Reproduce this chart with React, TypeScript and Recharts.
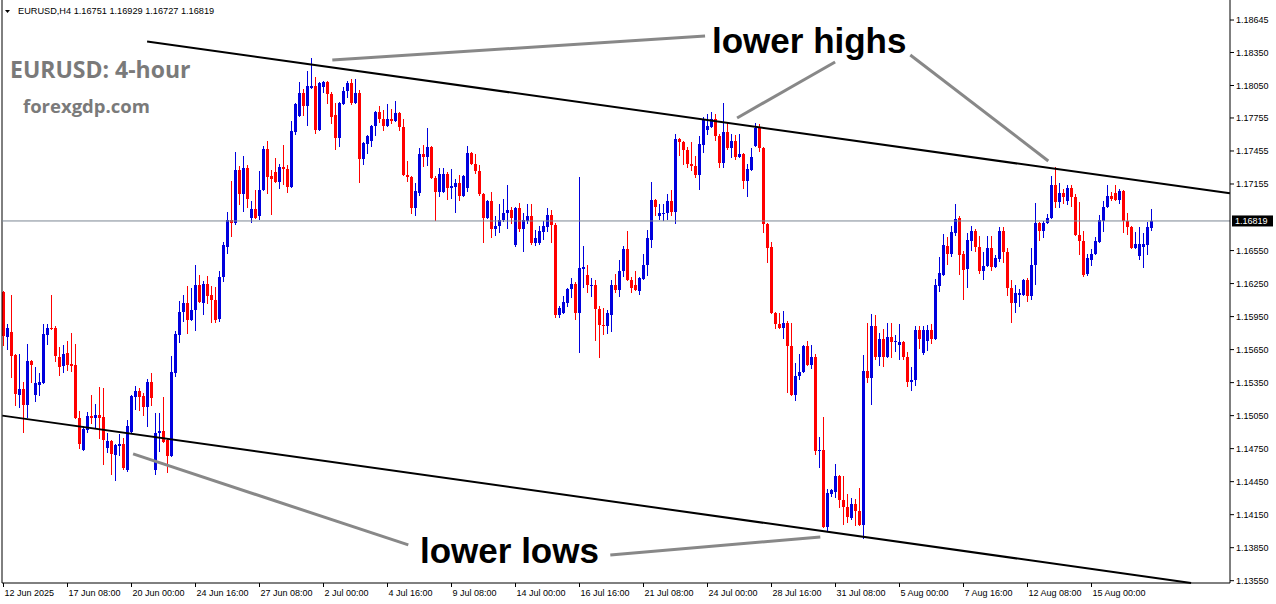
import React from 'react';
import { ComposedChart, Bar, XAxis, YAxis, ReferenceLine } from 'recharts';

// EURUSD H4 candles, oldest first
const OPEN = [
  1.1617, 1.1576, 1.1581, 1.1560, 1.1524, 1.1529, 1.1515, 1.1555,
  1.1524, 1.1533, 1.1535, 1.1578, 1.1585, 1.1585, 1.1558, 1.1550,
  1.1562, 1.1552, 1.1551, 1.1503, 1.1474, 1.1492, 1.1505, 1.1503,
  1.1506, 1.1504, 1.1476, 1.1482, 1.1469, 1.1477, 1.1479, 1.1456,
  1.1490, 1.1522, 1.1527, 1.1523, 1.1513, 1.1536, 1.1456, 1.1489,
  1.1491, 1.1483, 1.1468, 1.1544, 1.1578, 1.1599, 1.1607, 1.1592,
  1.1601, 1.1624, 1.1607, 1.1625, 1.1615, 1.1610, 1.1593, 1.1631,
  1.1658, 1.1683, 1.1680, 1.1728, 1.1706, 1.1730, 1.1685, 1.1693,
  1.1686, 1.1710, 1.1747, 1.1723, 1.1726, 1.1717, 1.1731, 1.1729,
  1.1713, 1.1763, 1.1777, 1.1798, 1.1786, 1.1803, 1.1805, 1.1765,
  1.1804, 1.1808, 1.1797, 1.1778, 1.1757, 1.1788, 1.1800, 1.1807,
  1.1789, 1.1798, 1.1738, 1.1752, 1.1755, 1.1768, 1.1781, 1.1775,
  1.1768, 1.1775, 1.1773, 1.1780, 1.1767, 1.1724, 1.1722, 1.1694,
  1.1707, 1.1743, 1.1740, 1.1749, 1.1721, 1.1708, 1.1708, 1.1725,
  1.1712, 1.1713, 1.1716, 1.1705, 1.1712, 1.1744, 1.1734, 1.1727,
  1.1706, 1.1685, 1.1700, 1.1675, 1.1677, 1.1683, 1.1689, 1.1692,
  1.1660, 1.1694, 1.1675, 1.1682, 1.1686, 1.1662, 1.1662, 1.1672,
  1.1676, 1.1687, 1.1678, 1.1596, 1.1598, 1.1607, 1.1620, 1.1625,
  1.1598, 1.1638, 1.1633, 1.1623, 1.1624, 1.1602, 1.1587, 1.1586,
  1.1596, 1.1624, 1.1619, 1.1636, 1.1656, 1.1628, 1.1624, 1.1618,
  1.1629, 1.1642, 1.1665, 1.1701, 1.1686, 1.1688, 1.1689, 1.1700,
  1.1690, 1.1756, 1.1754, 1.1746, 1.1734, 1.1732, 1.1724, 1.1751,
  1.1765, 1.1767, 1.1775, 1.1759, 1.1735, 1.1763, 1.1748, 1.1755,
  1.1740, 1.1743, 1.1718, 1.1728, 1.1750, 1.1766, 1.1748, 1.1679,
  1.1658, 1.1598, 1.1588, 1.1585, 1.1589, 1.1568, 1.1524, 1.1541,
  1.1545, 1.1568, 1.1551, 1.1558, 1.1473, 1.1474, 1.1404, 1.1434,
  1.1436, 1.1450, 1.1428, 1.1422, 1.1412, 1.1425, 1.1418, 1.1406,
  1.1546, 1.1539, 1.1586, 1.1558, 1.1575, 1.1558, 1.1576, 1.1572,
  1.1569, 1.1572, 1.1558, 1.1536, 1.1537, 1.1583, 1.1562, 1.1573,
  1.1583, 1.1575, 1.1623, 1.1633, 1.1659, 1.1652, 1.1671, 1.1685,
  1.1652, 1.1638, 1.1664, 1.1673, 1.1658, 1.1636, 1.1641, 1.1657,
  1.1640, 1.1647, 1.1673, 1.1654, 1.1621, 1.1607, 1.1615, 1.1615,
  1.1628, 1.1614, 1.1642, 1.1680, 1.1673, 1.1680, 1.1685, 1.1715,
  1.1699, 1.1707, 1.1700, 1.1712, 1.1704, 1.1669, 1.1664, 1.1634,
  1.1646, 1.1652, 1.1663, 1.1682, 1.1695, 1.1705, 1.1707, 1.1701,
  1.1709, 1.1682, 1.1676, 1.1657, 1.1650, 1.1658, 1.1660, 1.16751,
];

const HIGH = [
  1.1618, 1.1588, 1.1615, 1.1561, 1.1561, 1.1536, 1.1570, 1.1556,
  1.1549, 1.1544, 1.1588, 1.1588, 1.1615, 1.1586, 1.1567, 1.1569,
  1.1573, 1.1580, 1.1570, 1.1509, 1.1496, 1.1508, 1.1524, 1.1516,
  1.1531, 1.1530, 1.1489, 1.1483, 1.1479, 1.1488, 1.1485, 1.1501,
  1.1524, 1.1532, 1.1530, 1.1526, 1.1538, 1.1544, 1.1507, 1.1507,
  1.1522, 1.1485, 1.1559, 1.1582, 1.1609, 1.1615, 1.1623, 1.1621,
  1.1642, 1.1633, 1.1627, 1.1632, 1.1623, 1.1622, 1.1636, 1.1663,
  1.1690, 1.1718, 1.1745, 1.1732, 1.1741, 1.1733, 1.1700, 1.1710,
  1.1727, 1.1750, 1.1755, 1.1728, 1.1739, 1.1734, 1.1751, 1.1733,
  1.1773, 1.1789, 1.1808, 1.1802, 1.1818, 1.1830, 1.1813, 1.1808,
  1.1809, 1.1809, 1.1799, 1.1789, 1.1790, 1.1804, 1.1809, 1.1811,
  1.1811, 1.1801, 1.1754, 1.1760, 1.1769, 1.1782, 1.1786, 1.1783,
  1.1788, 1.1784, 1.1791, 1.1781, 1.1775, 1.1736, 1.1723, 1.1716,
  1.1748, 1.1751, 1.1766, 1.1750, 1.1723, 1.1730, 1.1730, 1.1726,
  1.1729, 1.1720, 1.1724, 1.1724, 1.1750, 1.1745, 1.1743, 1.1733,
  1.1707, 1.1701, 1.1708, 1.1686, 1.1697, 1.1702, 1.1715, 1.1695,
  1.1695, 1.1698, 1.1689, 1.1697, 1.1697, 1.1674, 1.1677, 1.1682,
  1.1694, 1.1692, 1.1680, 1.1605, 1.1614, 1.1621, 1.1630, 1.1626,
  1.1722, 1.1659, 1.1642, 1.1630, 1.1628, 1.1605, 1.1603, 1.1601,
  1.1628, 1.1634, 1.1646, 1.1659, 1.1673, 1.1631, 1.1636, 1.1631,
  1.1652, 1.1674, 1.1717, 1.1702, 1.1697, 1.1697, 1.1706, 1.1710,
  1.1761, 1.1757, 1.1755, 1.1749, 1.1754, 1.1741, 1.1759, 1.1776,
  1.1779, 1.1781, 1.1779, 1.1761, 1.1789, 1.1772, 1.1761, 1.1760,
  1.1761, 1.1744, 1.1734, 1.1748, 1.1771, 1.1770, 1.1749, 1.1680,
  1.1663, 1.1599, 1.1598, 1.1600, 1.1591, 1.1589, 1.1553, 1.1561,
  1.1569, 1.1573, 1.1569, 1.1561, 1.1486, 1.1504, 1.1438, 1.1438,
  1.1461, 1.1451, 1.1450, 1.1434, 1.1430, 1.1429, 1.1439, 1.1560,
  1.1589, 1.1597, 1.1596, 1.1580, 1.1584, 1.1589, 1.1589, 1.1578,
  1.1588, 1.1573, 1.1563, 1.1549, 1.1586, 1.1586, 1.1586, 1.1587,
  1.1588, 1.1629, 1.1649, 1.1670, 1.1667, 1.1677, 1.1697, 1.1686,
  1.1655, 1.1671, 1.1677, 1.1675, 1.1668, 1.1654, 1.1668, 1.1668,
  1.1651, 1.1676, 1.1676, 1.1657, 1.1628, 1.1624, 1.1620, 1.1629,
  1.1630, 1.1657, 1.1698, 1.1681, 1.1682, 1.1688, 1.1723, 1.1731,
  1.1716, 1.1711, 1.1715, 1.1715, 1.1706, 1.1699, 1.1673, 1.1652,
  1.1656, 1.1667, 1.1687, 1.1700, 1.1715, 1.1708, 1.1715, 1.1711,
  1.1710, 1.1689, 1.1677, 1.1672, 1.1676, 1.1671, 1.1681, 1.16929,
];

const LOW = [
  1.1568, 1.1565, 1.1539, 1.1514, 1.1512, 1.1489, 1.1503, 1.1535,
  1.1517, 1.1523, 1.1534, 1.1569, 1.1583, 1.1554, 1.1541, 1.1544,
  1.1546, 1.1545, 1.1502, 1.1475, 1.1473, 1.1489, 1.1497, 1.1494,
  1.1484, 1.1460, 1.1471, 1.1451, 1.1446, 1.1468, 1.1456, 1.1454,
  1.1488, 1.1510, 1.1509, 1.1505, 1.1495, 1.1514, 1.1451, 1.1472,
  1.1480, 1.1453, 1.1467, 1.1540, 1.1571, 1.1590, 1.1579, 1.1591,
  1.1582, 1.1607, 1.1596, 1.1606, 1.1589, 1.1589, 1.1590, 1.1626,
  1.1652, 1.1667, 1.1678, 1.1696, 1.1690, 1.1694, 1.1680, 1.1684,
  1.1683, 1.1709, 1.1706, 1.1687, 1.1716, 1.1711, 1.1715, 1.1707,
  1.1712, 1.1760, 1.1776, 1.1777, 1.1768, 1.1802, 1.1761, 1.1764,
  1.1798, 1.1788, 1.1770, 1.1746, 1.1749, 1.1787, 1.1794, 1.1787,
  1.1788, 1.1716, 1.1733, 1.1743, 1.1749, 1.1759, 1.1771, 1.1764,
  1.1767, 1.1770, 1.1772, 1.1764, 1.1723, 1.1717, 1.1688, 1.1686,
  1.1705, 1.1731, 1.1732, 1.1720, 1.1682, 1.1704, 1.1707, 1.1701,
  1.1702, 1.1689, 1.1700, 1.1704, 1.1708, 1.1733, 1.1725, 1.1705,
  1.1662, 1.1684, 1.1666, 1.1668, 1.1671, 1.1681, 1.1675, 1.1679,
  1.1658, 1.1672, 1.1654, 1.1679, 1.1660, 1.1659, 1.1660, 1.1665,
  1.1672, 1.1662, 1.1594, 1.1594, 1.1597, 1.1604, 1.1612, 1.1592,
  1.1562, 1.1621, 1.1616, 1.1613, 1.1573, 1.1557, 1.1578, 1.1579,
  1.1581, 1.1616, 1.1613, 1.1631, 1.1627, 1.1616, 1.1618, 1.1615,
  1.1628, 1.1632, 1.1657, 1.1686, 1.1683, 1.1682, 1.1683, 1.1686,
  1.1679, 1.1741, 1.1733, 1.1730, 1.1727, 1.1721, 1.1710, 1.1744,
  1.1760, 1.1766, 1.1755, 1.1730, 1.1730, 1.1746, 1.1739, 1.1737,
  1.1739, 1.1711, 1.1704, 1.1727, 1.1749, 1.1745, 1.1671, 1.1644,
  1.1597, 1.1584, 1.1584, 1.1575, 1.1526, 1.1523, 1.1518, 1.1537,
  1.1544, 1.1550, 1.1547, 1.1469, 1.1457, 1.1403, 1.1400, 1.1431,
  1.1430, 1.1421, 1.1406, 1.1407, 1.1410, 1.1405, 1.1405, 1.1393,
  1.1535, 1.1515, 1.1556, 1.1550, 1.1549, 1.1557, 1.1557, 1.1563,
  1.1556, 1.1556, 1.1531, 1.1527, 1.1532, 1.1566, 1.1560, 1.1564,
  1.1570, 1.1574, 1.1617, 1.1632, 1.1642, 1.1649, 1.1668, 1.1633,
  1.1610, 1.1621, 1.1655, 1.1654, 1.1634, 1.1628, 1.1640, 1.1636,
  1.1639, 1.1645, 1.1644, 1.1614, 1.1589, 1.1598, 1.1604, 1.1614,
  1.1608, 1.1610, 1.1624, 1.1664, 1.1666, 1.1679, 1.1684, 1.1694,
  1.1694, 1.1697, 1.1696, 1.1695, 1.1668, 1.1651, 1.1631, 1.1632,
  1.1641, 1.1651, 1.1662, 1.1672, 1.1694, 1.1700, 1.1700, 1.1697,
  1.1671, 1.1669, 1.1656, 1.1656, 1.1646, 1.1639, 1.1651, 1.16727,
];

const CLOSE = [
  1.1577, 1.1585, 1.1559, 1.1525, 1.1529, 1.1515, 1.1555, 1.1551,
  1.1535, 1.1536, 1.1579, 1.1585, 1.1584, 1.1559, 1.1549, 1.1561,
  1.1551, 1.1550, 1.1503, 1.1479, 1.1493, 1.1505, 1.1503, 1.1506,
  1.1503, 1.1483, 1.1482, 1.1470, 1.1478, 1.1479, 1.1457, 1.1496,
  1.1523, 1.1527, 1.1522, 1.1513, 1.1536, 1.1521, 1.1489, 1.1491,
  1.1481, 1.1468, 1.1545, 1.1579, 1.1599, 1.1607, 1.1592, 1.1601,
  1.1624, 1.1608, 1.1625, 1.1614, 1.1610, 1.1592, 1.1631, 1.1660,
  1.1683, 1.1680, 1.1728, 1.1706, 1.1730, 1.1702, 1.1693, 1.1685,
  1.1710, 1.1747, 1.1722, 1.1720, 1.1717, 1.1731, 1.1729, 1.1713,
  1.1764, 1.1788, 1.1798, 1.1786, 1.1805, 1.1805, 1.1765, 1.1807,
  1.1808, 1.1797, 1.1776, 1.1757, 1.1789, 1.1800, 1.1807, 1.1789,
  1.1798, 1.1738, 1.1753, 1.1759, 1.1768, 1.1781, 1.1775, 1.1768,
  1.1775, 1.1773, 1.1780, 1.1767, 1.1724, 1.1722, 1.1694, 1.1709,
  1.1743, 1.1740, 1.1749, 1.1721, 1.1708, 1.1725, 1.1725, 1.1712,
  1.1714, 1.1716, 1.1705, 1.1723, 1.1744, 1.1734, 1.1727, 1.1706,
  1.1685, 1.1700, 1.1675, 1.1677, 1.1683, 1.1689, 1.1692, 1.1685,
  1.1694, 1.1675, 1.1683, 1.1686, 1.1662, 1.1666, 1.1673, 1.1677,
  1.1687, 1.1678, 1.1596, 1.1603, 1.1608, 1.1620, 1.1625, 1.1598,
  1.1639, 1.1640, 1.1624, 1.1624, 1.1602, 1.1587, 1.1586, 1.1598,
  1.1624, 1.1619, 1.1636, 1.1656, 1.1628, 1.1621, 1.1619, 1.1630,
  1.1642, 1.1666, 1.1701, 1.1695, 1.1689, 1.1689, 1.1700, 1.1690,
  1.1756, 1.1754, 1.1746, 1.1734, 1.1732, 1.1724, 1.1752, 1.1774,
  1.1768, 1.1775, 1.1759, 1.1735, 1.1763, 1.1748, 1.1755, 1.1740,
  1.1743, 1.1718, 1.1729, 1.1740, 1.1766, 1.1748, 1.1679, 1.1657,
  1.1598, 1.1588, 1.1585, 1.1589, 1.1568, 1.1524, 1.1541, 1.1545,
  1.1568, 1.1551, 1.1558, 1.1473, 1.1474, 1.1404, 1.1435, 1.1437,
  1.1450, 1.1428, 1.1422, 1.1413, 1.1425, 1.1418, 1.1406, 1.1546,
  1.1539, 1.1586, 1.1558, 1.1575, 1.1558, 1.1576, 1.1572, 1.1573,
  1.1572, 1.1558, 1.1536, 1.1537, 1.1583, 1.1575, 1.1583, 1.1583,
  1.1575, 1.1624, 1.1635, 1.1660, 1.1652, 1.1672, 1.1684, 1.1651,
  1.1637, 1.1665, 1.1673, 1.1658, 1.1636, 1.1641, 1.1657, 1.1640,
  1.1648, 1.1673, 1.1654, 1.1621, 1.1607, 1.1616, 1.1616, 1.1628,
  1.1614, 1.1642, 1.1680, 1.1673, 1.1680, 1.1685, 1.1715, 1.1699,
  1.1707, 1.1704, 1.1712, 1.1704, 1.1669, 1.1664, 1.1633, 1.1648,
  1.1652, 1.1664, 1.1683, 1.1695, 1.1705, 1.1702, 1.1701, 1.1709,
  1.1682, 1.1676, 1.1657, 1.1661, 1.1661, 1.1661, 1.1676, 1.16819,
];

// one time label every 16 bars, starting at the first bar
const TIME_LABELS = [
  '12 Jun 2025', '17 Jun 08:00', '20 Jun 00:00', '24 Jun 16:00', '27 Jun 08:00',
  '2 Jul 00:00', '4 Jul 16:00', '9 Jul 08:00', '14 Jul 00:00', '16 Jul 16:00',
  '21 Jul 08:00', '24 Jul 00:00', '28 Jul 16:00', '31 Jul 08:00', '5 Aug 00:00',
  '7 Aug 16:00', '12 Aug 08:00', '15 Aug 00:00',
];
const LABEL_STEP = 16;

// 1.16855 sits under the last-price tag, so it is left out
const PRICE_TICKS = [
  1.18645, 1.1835, 1.1805, 1.17755, 1.17455, 1.17155, 1.1655, 1.1625,
  1.1595, 1.1565, 1.1535, 1.1505, 1.1475, 1.1445, 1.1415, 1.1385, 1.1355,
];
const LAST_PRICE = 1.16819;

// channel lines and pointer lines, as [bar index, price] pairs
const UPPER_CHANNEL = [{ x: 35.9, y: 1.1845 }, { x: 306.6, y: 1.1707 }];
const LOWER_CHANNEL = [{ x: -0.3, y: 1.1505 }, { x: 296.9, y: 1.13529 }];
const HIGH_POINTERS = [
  [{ x: 82.2, y: 1.18282 }, { x: 175.4, y: 1.185 }],
  [{ x: 183.4, y: 1.17755 }, { x: 207.9, y: 1.18264 }],
  [{ x: 226.7, y: 1.18327 }, { x: 261.2, y: 1.17364 }],
];
const LOW_POINTERS = [
  [{ x: 32.4, y: 1.14702 }, { x: 101.2, y: 1.13875 }],
  [{ x: 151.7, y: 1.13784 }, { x: 204.2, y: 1.13947 }],
];

const BULL = '#0000dd';
const BEAR = '#ff0000';
const FONT = '"Liberation Sans", Arial, sans-serif';

const data = OPEN.map((o, i) => ({
  i,
  o,
  h: HIGH[i],
  l: LOW[i],
  c: CLOSE[i],
  range: [LOW[i], HIGH[i]],
}));

const labelIndexes = TIME_LABELS.map((_, k) => k * LABEL_STEP);

const Candle = (props: any) => {
  const { x, y, width, height, payload } = props;
  if (!payload) return null;
  const { o, h, l, c } = payload;
  const top = Math.min(y, y + height);
  const span = Math.abs(height);
  const py = (p: number) => top + ((h - p) / (h - l || 1)) * span;
  const color = c >= o ? BULL : BEAR;
  const cx = x + width / 2;
  const bodyTop = py(Math.max(o, c));
  const bodyH = Math.max(1, py(Math.min(o, c)) - bodyTop);
  return (
    <g shapeRendering="crispEdges">
      <line x1={cx} x2={cx} y1={top} y2={top + span} stroke={color} strokeWidth={1} />
      <rect x={x} y={bodyTop} width={width} height={bodyH} fill={color} />
    </g>
  );
};

const TimeTick = (props: any) => {
  const { x, y, payload } = props;
  const text = TIME_LABELS[Math.round(payload.value / LABEL_STEP)];
  return (
    <text x={x + 1} y={y + 7} fontSize={9} fontFamily={FONT} fill="#000" textAnchor="start">
      {text}
    </text>
  );
};

const PriceTag = (props: any) => {
  const vb = props.viewBox || {};
  const left = vb.x + vb.width + 2;
  return (
    <g>
      <rect x={left} y={vb.y - 5.5} width={41} height={11} fill="#000" />
      <text x={left + 3} y={vb.y + 3.5} fontSize={9} fontFamily={FONT} fill="#fff">
        {LAST_PRICE.toFixed(5)}
      </text>
    </g>
  );
};

export default function App() {
  return (
    <div style={{ position: 'absolute', left: 0, top: 0, width: 1276, height: 604, background: '#fff' }}>
      <ComposedChart
        width={1276}
        height={604}
        data={data}
        margin={{ top: 0, right: 0, bottom: 0, left: 2 }}
      >
        <XAxis
          type="number"
          dataKey="i"
          domain={[-0.375, 306.625]}
          allowDataOverflow
          ticks={labelIndexes}
          interval={0}
          height={21}
          tickSize={4}
          axisLine={{ stroke: '#000' }}
          tickLine={{ stroke: '#000' }}
          tick={<TimeTick />}
        />
        <YAxis
          orientation="right"
          type="number"
          domain={[1.13529, 1.18827]}
          allowDataOverflow
          ticks={PRICE_TICKS}
          interval={0}
          width={46}
          tickSize={4}
          tickMargin={2}
          tickFormatter={(v: number) => v.toFixed(5)}
          axisLine={{ stroke: '#000' }}
          tickLine={{ stroke: '#000' }}
          tick={{ fontSize: 9, fill: '#000', fontFamily: FONT, textAnchor: 'start' }}
        />
        <ReferenceLine x={-0.375} stroke="#000" />
        <ReferenceLine y={LAST_PRICE} stroke="#7b8794" label={<PriceTag />} />
        <Bar dataKey="range" barSize={3} shape={<Candle />} isAnimationActive={false} />
        <ReferenceLine segment={UPPER_CHANNEL} stroke="#000" strokeWidth={2} ifOverflow="visible" />
        <ReferenceLine segment={LOWER_CHANNEL} stroke="#000" strokeWidth={2} ifOverflow="visible" />
        {HIGH_POINTERS.map((seg, k) => (
          <ReferenceLine key={`hp${k}`} segment={seg} stroke="#888" strokeWidth={3} ifOverflow="visible" />
        ))}
        {LOW_POINTERS.map((seg, k) => (
          <ReferenceLine key={`lp${k}`} segment={seg} stroke="#888" strokeWidth={3} ifOverflow="visible" />
        ))}
      </ComposedChart>
      <svg
        width={1276}
        height={604}
        style={{ position: 'absolute', left: 0, top: 0, pointerEvents: 'none' }}
      >
        <polygon points="5,10 10,10 7.5,13" fill="#000" />
        <text x={18} y={14} fontSize={9.2} fontFamily={FONT} fill="#000">
          EURUSD,H4  1.16751 1.16929 1.16727 1.16819
        </text>
        <text x={10} y={78} fontSize={23} fontWeight={700} fontFamily='"Open Sans", sans-serif' fill="#7a7a7a">
          EURUSD: 4-hour
        </text>
        <text x={23} y={113} fontSize={18.5} fontWeight={700} fontFamily='"Open Sans", sans-serif' fill="#7a7a7a">
          forexgdp.com
        </text>
        <text x={712} y={53} fontSize={35} fontWeight={700} fontFamily={FONT} fill="#000">
          lower highs
        </text>
        <text x={420} y={563} fontSize={35} fontWeight={700} fontFamily={FONT} fill="#000">
          lower lows
        </text>
      </svg>
    </div>
  );
}
